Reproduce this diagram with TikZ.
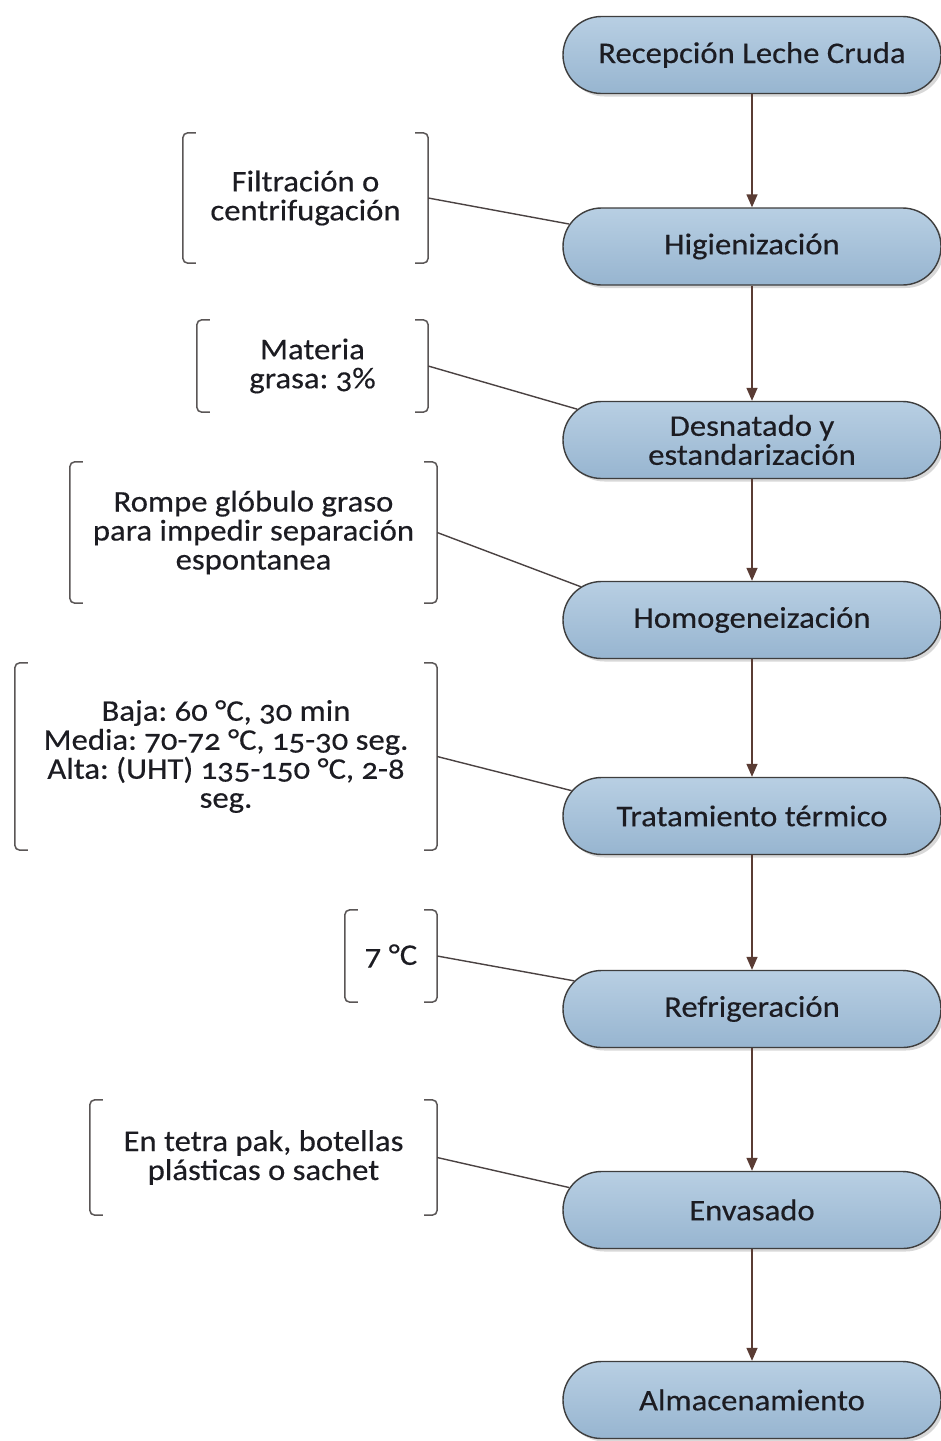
\documentclass[tikz,border=0pt]{standalone}
\usepackage{fontspec}
\setmainfont{Carlito}[Numbers=OldStyle,FakeStretch=1.09,FakeBold=0.35]
\frenchspacing
\usetikzlibrary{shapes.misc,shadows,arrows.meta}

\definecolor{pillTop}{HTML}{B8CFE3}
\definecolor{pillBottom}{HTML}{97B5D0}
\definecolor{pillBorder}{HTML}{3E3E3E}
\definecolor{inkDark}{HTML}{1C1C22}
\definecolor{flowBrown}{HTML}{5A3C34}
\definecolor{bracketGray}{HTML}{5A5656}
\definecolor{linkGray}{HTML}{4A4242}

% draws a pair of square brackets around a note node
\newcommand\bracketsaround[1]{%
  \draw[bracketline] ([xshift=13pt]#1.north west) -- (#1.north west)
        -- (#1.south west) -- ([xshift=13pt]#1.south west);
  \draw[bracketline] ([xshift=-13pt]#1.north east) -- (#1.north east)
        -- (#1.south east) -- ([xshift=-13pt]#1.south east);
}

\begin{document}
\begin{tikzpicture}[x=1pt,y=-1pt,
  stage/.style={rounded rectangle, draw=pillBorder, line width=1.4pt,
    top color=pillTop, bottom color=pillBottom,
    minimum width=378pt, minimum height=77pt, inner sep=0pt,
    align=center, text=inkDark, font=\fontsize{30}{29}\selectfont,
    drop shadow={shadow xshift=3pt, shadow yshift=-3pt, opacity=0.3}},
  note/.style={rectangle, inner sep=0pt, align=center, text=inkDark,
    font=\fontsize{30}{29}\selectfont},
  bracketline/.style={draw=bracketGray, line width=1.5pt, rounded corners=5pt},
  flow/.style={draw=flowBrown, line width=1.4pt,
    -{Triangle[length=13pt,width=11pt]}},
  link/.style={draw=linkGray, line width=1.4pt}
]
\useasboundingbox[fill=white] (0,0) rectangle (941,1441);

% process stages
\node[stage] (rec) at (752,55)   {Recepción Leche Cruda};
\node[stage] (hig) at (752,246.5) {Higienización};
\node[stage] (des) at (752,440)  {Desnatado y\\estandarización};
\node[stage] (hom) at (752,620)  {Homogeneización};
\node[stage] (tra) at (752,816)  {Tratamiento térmico};
\node[stage] (ref) at (752,1009) {Refrigeración};
\node[stage] (env) at (752,1210) {Envasado};
\node[stage] (alm) at (752,1400) {Almacenamiento};

% main flow
\draw[flow] (rec.south) -- (hig.north);
\draw[flow] (hig.south) -- (des.north);
\draw[flow] (des.south) -- (hom.north);
\draw[flow] (hom.south) -- (tra.north);
\draw[flow] (tra.south) -- (ref.north);
\draw[flow] (ref.south) -- (env.north);
\draw[flow] (env.south) -- (alm.north);

% side notes
\node[note, minimum width=245pt, minimum height=130pt] (n1) at (305.5,198)
  {Filtración o\\centrifugación};
\node[note, minimum width=231pt, minimum height=92pt] (n2) at (312.5,366)
  {Materia\\grasa: 3\%};
\node[note, minimum width=367pt, minimum height=141pt] (n3) at (253.5,532.5)
  {Rompe glóbulo graso\\para impedir separación\\espontanea};
\node[note, minimum width=422pt, minimum height=187pt] (n4) at (226,756.5)
  {Baja: 60 °C, 30 min\\Media: 70-72 °C, 15-30 seg.\\Alta: (UHT) 135-150 °C, 2-8\\seg.};
\node[note, minimum width=92pt, minimum height=92pt] (n5) at (391,956)
  {7 °C};
\node[note, minimum width=347pt, minimum height=115pt] (n6) at (263.5,1157.5)
  {En tetra pak, botellas\\plásticas o sachet};

\bracketsaround{n1}
\bracketsaround{n2}
\bracketsaround{n3}
\bracketsaround{n4}
\bracketsaround{n5}
\bracketsaround{n6}

% note connectors
\draw[link] (n1.east) -- (hig.173.7);
\draw[link] (n2.east) -- (des.170.2);
\draw[link] (n3.east) -- (hom.169.8);
\draw[link] (n4.east) -- (tra.172.8);
\draw[link] (n5.east) -- (ref.171.9);
\draw[link] (n6.east) -- (env.173.4);
\end{tikzpicture}
\end{document}
